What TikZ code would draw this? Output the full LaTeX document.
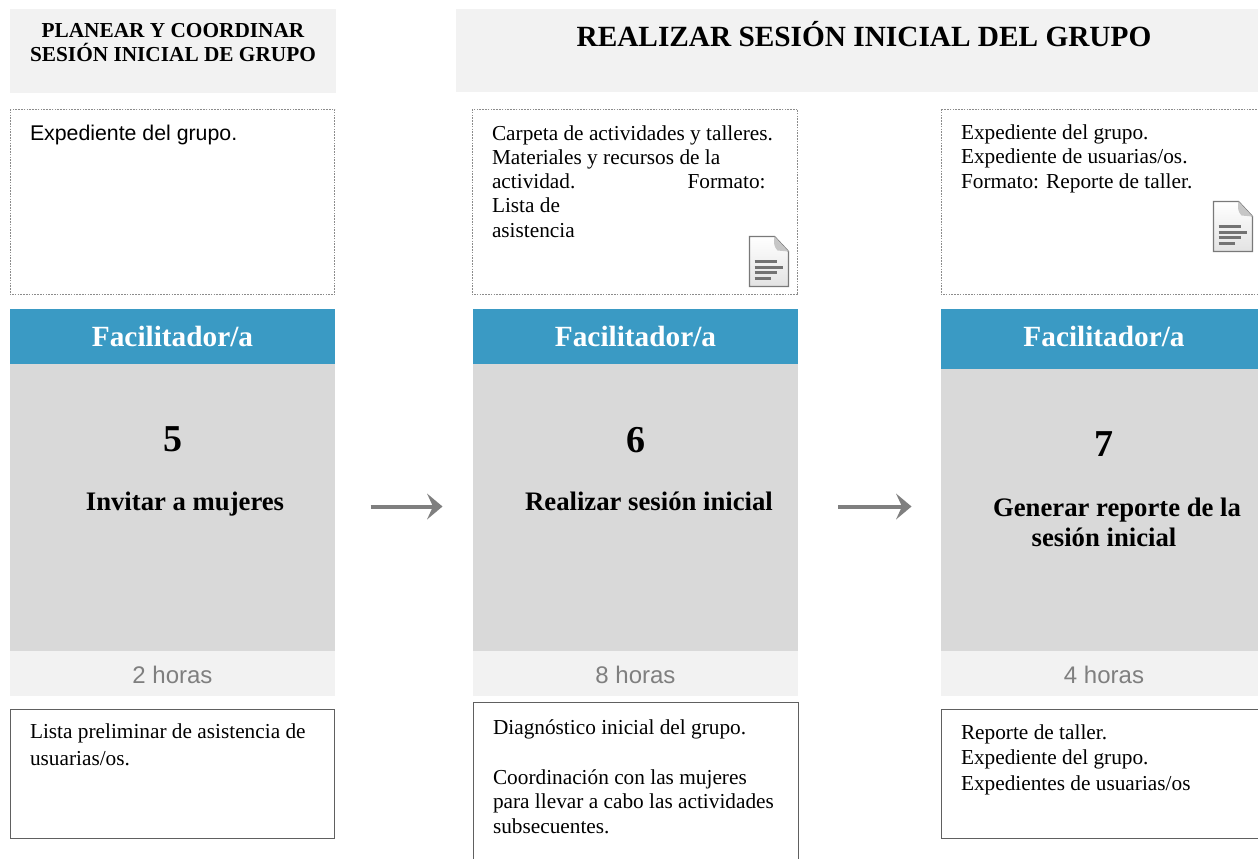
\documentclass[tikz,border=0pt]{standalone}
\usepackage{fontspec}
\setmainfont{Liberation Serif}
\newfontfamily\arialf{Liberation Sans}
\definecolor{hdr}{HTML}{F2F2F2}
\definecolor{blue1}{HTML}{3A9AC4}
\definecolor{gray1}{HTML}{D9D9D9}
\definecolor{dots}{HTML}{8C8C8C}
\definecolor{arrowc}{HTML}{7F7F7F}
\newcommand{\fs}[1]{\fontsize{#1}{#1}\selectfont}
\newcommand{\docicon}[2]{%
 \begin{scope}[shift={(#1,#2)}]
  \fill[top color=white,bottom color=gray!22,draw=gray!95!black,line width=1.3pt]
    (0,0) -- (25,0) -- (39,15) -- (39,50) -- (0,50) -- cycle;
  \fill[gray!45] (25,0) -- (39,15) -- (28,14) .. controls (24,10) and (24,5) .. (25,0);
  \draw[gray!90!black,line width=2.4pt] (5,25) -- (27,25);
  \draw[gray!90!black,line width=2.4pt] (5,31) -- (33,31);
  \draw[gray!90!black,line width=2.4pt] (5,36) -- (27,36);
  \draw[gray!90!black,line width=2.4pt] (5,42) -- (21,42);
 \end{scope}}
\tikzset{x=1pt,y=-1pt,
 hdrbox/.style={fill=hdr,draw=none},
 inbox/.style={draw=dots,dash pattern=on 1.6pt off 1.2pt,line width=.7pt},
 outbox/.style={draw=gray!75!black,line width=.7pt},
 roleband/.style={fill=blue1,draw=none},
 taskbody/.style={fill=gray1,draw=none},
 txt/.style={anchor=base west,inner sep=0pt,outer sep=0pt,font=\fs{21.3}},
 atxt/.style={anchor=base west,inner sep=0pt,outer sep=0pt,font=\arialf\fs{21.3}},
 ctxt/.style={anchor=base,inner sep=0pt,outer sep=0pt},
 role/.style={ctxt,font=\bfseries\fs{29.3},text=white},
 num/.style={ctxt,font=\bfseries\fs{38}},
 task/.style={ctxt,font=\bfseries\fs{26.7}},
 hours/.style={ctxt,font=\arialf\fs{24},text=arrowc},
 flow/.style={draw=arrowc,line width=4pt},
 flowhead/.style={fill=arrowc,draw=none},
}
\begin{document}
\begin{tikzpicture}
\useasboundingbox (0,0) rectangle (1258,859);
\fill[white] (0,0) rectangle (1258,859);
% headers
\fill[hdrbox] (10,9) rectangle (336,93);
\fill[hdrbox] (456,9) rectangle (1258,92);
\node[ctxt,font=\bfseries\fs{21.3}] (h1a) at (173,38) {PLANEAR Y COORDINAR};
\node[ctxt,font=\bfseries\fs{21.3}] (h1b) at (173,62) {SESIÓN INICIAL DE GRUPO};
\node[ctxt,font=\bfseries\fs{29.3}] (h2) at (864,47) {REALIZAR SESIÓN INICIAL DEL GRUPO};
% input boxes
\draw[inbox] (10,109) rectangle (334.7,294.6);
\draw[inbox] (472,109) rectangle (797.7,294.6);
\draw[inbox] (941,109) rectangle (1259,294.6);
\node[atxt] (i1) at (30,140.5) {Expediente del grupo.};
\node[txt] (i2a) at (492,140) {Carpeta de actividades y talleres.};
\node[txt] (i2b) at (492,164) {Materiales y recursos de la};
\node[txt] (i2c) at (492,188.5) {actividad.};
\node[txt] (i2d) at (687.5,188.5) {Formato:};
\node[txt] (i2e) at (492,212) {Lista de};
\node[txt] (i2f) at (492,237) {asistencia};
\node[txt] (i3a) at (961,139) {Expediente del grupo.};
\node[txt] (i3b) at (961,163.5) {Expediente de usuarias/os.};
\node[txt] (i3c) at (961,188) {Formato: Reporte de taller.};
\docicon{749.5}{236.5}
\docicon{1213.5}{201.5}
% columns
\fill[roleband] (10,309) rectangle (335,364);
\fill[taskbody] (10,364) rectangle (335,651);
\fill[hdrbox] (10,651) rectangle (335,696);
\fill[roleband] (473,309) rectangle (798,364);
\fill[taskbody] (473,364) rectangle (798,651);
\fill[hdrbox] (473,651) rectangle (798,696);
\fill[roleband] (941,309) rectangle (1258,369);
\fill[taskbody] (941,369) rectangle (1258,651);
\fill[hdrbox] (941,651) rectangle (1258,696);
\node[role] (r1) at (172.5,346.7) {Facilitador/a};
\node[role] (r2) at (635.5,346.7) {Facilitador/a};
\node[role] (r3) at (1104,346.7) {Facilitador/a};
\node[num] (n1) at (172.5,451) {5};
\node[num] (n2) at (635.5,452) {6};
\node[num] (n3) at (1104,456) {7};
\node[task] (t1) at (185,510.5) {Invitar a mujeres};
\node[task] (t2) at (649,510.5) {Realizar sesión inicial};
\node[task] (t3a) at (1117,516) {Generar reporte de la};
\node[task] (t3b) at (1104,546) {sesión inicial};
\node[hours] (d1) at (172.5,683) {2 horas};
\node[hours] (d2) at (635.5,683) {8 horas};
\node[hours] (d3) at (1104,683) {4 horas};
% arrows
\coordinate (a1s) at (370.5,506.5);
\coordinate (a1e) at (434,506.5);
\coordinate (a1t) at (442.5,506.5);
\coordinate (a2s) at (838,506.5);
\coordinate (a2e) at (902,506.5);
\coordinate (a2t) at (911.5,506.5);
\draw[flow] (a1s) -- (a1e);
\draw[flow] (a2s) -- (a2e);
\fill[flowhead] (a1t) -- (427,493.5) -- (433,506.5) -- (427,519.5) -- cycle;
\fill[flowhead] (a2t) -- (896,493.5) -- (902,506.5) -- (896,519.5) -- cycle;
% output boxes
\draw[outbox] (10,709) rectangle (334.7,838);
\draw[outbox] (473,702) rectangle (798.7,862);
\draw[outbox] (941,709) rectangle (1259,838);
\node[txt] (o1a) at (30,738) {Lista preliminar de asistencia de};
\node[txt] (o1b) at (30,765) {usuarias/os.};
\node[txt] (o2a) at (493,734) {Diagnóstico inicial del grupo.};
\node[txt] (o2b) at (493,784) {Coordinación con las mujeres};
\node[txt] (o2c) at (493,808) {para llevar a cabo las actividades};
\node[txt] (o2d) at (493,833) {subsecuentes.};
\node[txt] (o3a) at (961,739) {Reporte de taller.};
\node[txt] (o3b) at (961,764) {Expediente del grupo.};
\node[txt] (o3c) at (961,790) {Expedientes de usuarias/os};
\end{tikzpicture}
\end{document}
